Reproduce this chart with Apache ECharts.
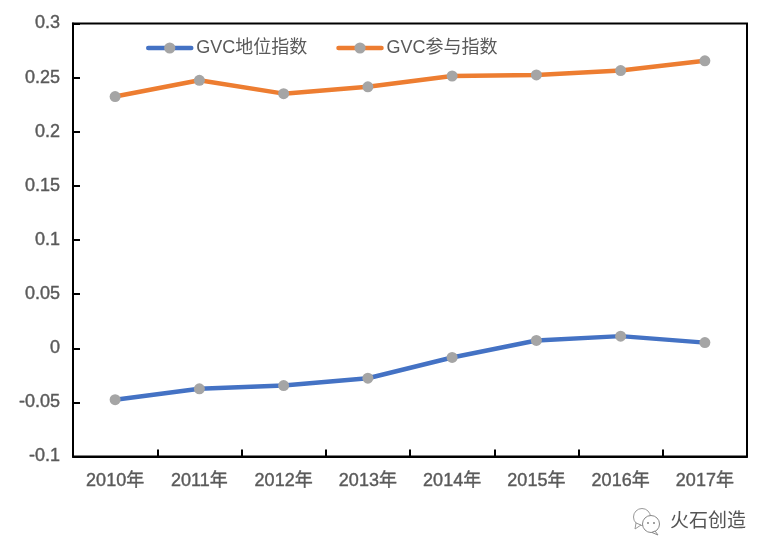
<!DOCTYPE html>
<html><head><meta charset="utf-8">
<style>html,body{margin:0;padding:0;background:#fff}#c{width:770px;height:554px}</style>
<script src="https://cdn.jsdelivr.net/npm/echarts@6/dist/echarts.min.js"></script>
</head><body><div id="c"></div>
<script>
const categories = ['2010年','2011年','2012年','2013年','2014年','2015年','2016年','2017年'];
const statusIndex = [-0.0475,-0.0375,-0.0345,-0.0277,-0.0085,0.0072,0.0112,0.0052];
const participationIndex = [0.2325,0.2475,0.2352,0.2415,0.2515,0.2525,0.2565,0.2655];
const seriesNames = ['GVC地位指数','GVC参与指数'];
const watermark = '火石创造';
const labelFont = '"Liberation Sans","Noto Sans CJK SC",sans-serif';
const chart = echarts.init(document.getElementById('c'), null, {renderer:'canvas'});
const mk = (name,data,color)=>({name,type:'line',data,symbol:'circle',symbolSize:11,showSymbol:true,
  lineStyle:{color,width:4.5,cap:'round'},itemStyle:{color:'#a5a5a5',borderWidth:0},z:3});
const tickLabel = {color:'#595959',fontSize:18,fontFamily:labelFont,textBorderColor:'#595959',textBorderWidth:0.4};
chart.setOption({
  animation:false,
  grid:{left:73,right:23,top:23.5,bottom:97.5,show:true,borderColor:'#000',borderWidth:2,backgroundColor:'transparent'},
  legend:{left:141,top:34,itemWidth:43,itemHeight:14,itemGap:29,
    lineStyle:{width:4.5,cap:'round'},
    textStyle:{color:'#595959',fontSize:18,fontFamily:labelFont},
    data:seriesNames},
  xAxis:{type:'category',data:categories,boundaryGap:true,
    axisLine:{onZero:false,lineStyle:{color:'#000',width:2}},
    axisTick:{show:true,inside:true,length:7,lineStyle:{color:'#000',width:2}},
    axisLabel:{...tickLabel,margin:16},splitLine:{show:false}},
  yAxis:{type:'value',min:-0.1,max:0.3,interval:0.05,
    axisLine:{show:true,lineStyle:{color:'#000',width:2}},
    axisTick:{show:true,inside:true,length:7,lineStyle:{color:'#000',width:2}},
    axisLabel:{...tickLabel,margin:13,padding:[2,0,0,0],
      formatter:v=>String(parseFloat(v.toFixed(2)))},splitLine:{show:false}},
  series:[mk(seriesNames[0],statusIndex,'#4472c4'),mk(seriesNames[1],participationIndex,'#ed7d31')],
  graphic:[
    {type:'text',left:670,top:510,style:{text:watermark,fill:'#555',font:'19px "Noto Sans CJK SC",sans-serif'}},
    {type:'group',left:633,top:508,children:[
      {type:'circle',shape:{cx:12,cy:8,r:8.5},style:{fill:'#fff',stroke:'#999',lineWidth:1}},
      {type:'polygon',shape:{points:[[6,14],[5,20],[11,16]]},style:{fill:'#fff',stroke:'#999',lineWidth:1}},
      {type:'circle',shape:{cx:21,cy:15,r:8.5},style:{fill:'#fff',stroke:'#888',lineWidth:1}},
      {type:'polygon',shape:{points:[[25,22],[28,26],[22,23.5]]},style:{fill:'#fff',stroke:'#888',lineWidth:1}},
      {type:'circle',shape:{cx:18,cy:14,r:0.9},style:{fill:'#777'}},
      {type:'circle',shape:{cx:24,cy:14,r:0.9},style:{fill:'#777'}}
    ]}
  ]
});
</script></body></html>
